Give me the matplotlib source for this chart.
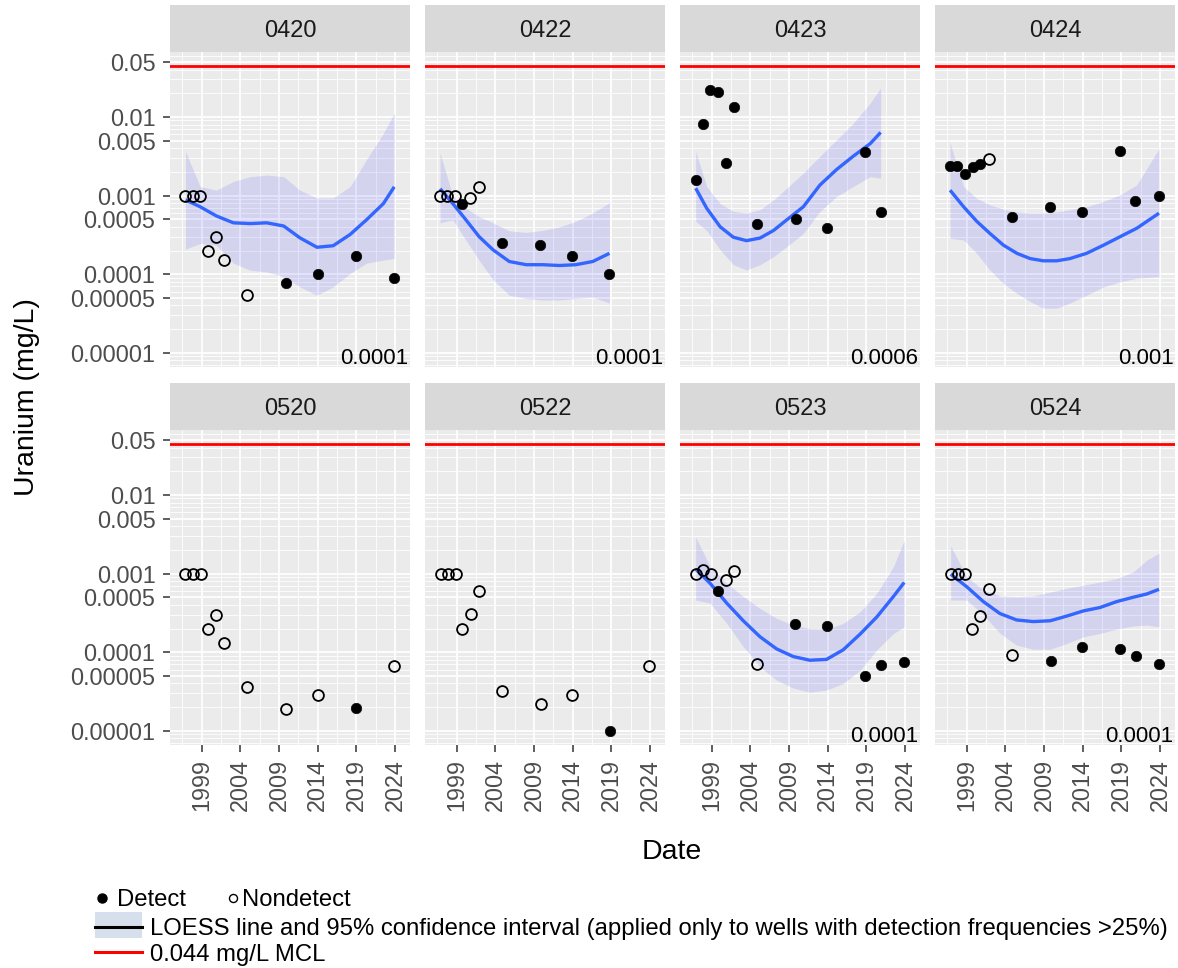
import matplotlib
matplotlib.use('Agg')
import matplotlib.pyplot as plt
from matplotlib.ticker import FixedLocator, NullFormatter
from matplotlib.patches import Rectangle
from matplotlib.lines import Line2D

plt.rcParams['font.family'] = ['Liberation Sans', 'DejaVu Sans']

# ---- data (decimal year, uranium mg/L, 1 = detect / 0 = nondetect) ----
wells = ['0420', '0422', '0423', '0424', '0520', '0522', '0523', '0524']
annot = ['0.0001', '0.0001', '0.0006', '0.001', '', '', '0.0001', '0.0001']
mcl = 0.044
y_breaks = [0.05, 0.01, 0.005, 0.001, 0.0005, 0.0001, 0.00005, 0.00001]
y_labels = ['0.05', '0.01', '0.005', '0.001', '0.0005', '0.0001', '0.00005', '0.00001']
x_breaks = [1999, 2004, 2009, 2014, 2019, 2024]

year_0420 = [1996.9, 1997.9, 1998.8, 1999.8, 2000.85, 2001.9, 2004.9, 2009.9, 2014.0, 2018.9, 2023.9]
conc_0420 = [0.001, 0.001, 0.001, 0.0002, 0.0003, 0.00015, 0.000055, 0.000077, 0.0001, 0.00017, 0.000089]
det_0420 = [0, 0, 0, 0, 0, 0, 0, 1, 1, 1, 1]
fitx_0420 = [1996.9, 1998.8, 2000.9, 2003.1, 2005.3, 2007.4, 2009.6, 2011.7, 2013.9, 2016.0, 2018.2, 2020.3, 2022.5, 2023.9]
fit_0420 = [8.8e-4, 7.2e-4, 5.5e-4, 4.5e-4, 4.4e-4, 4.5e-4, 4.1e-4, 2.9e-4, 2.2e-4, 2.3e-4, 3.2e-4, 4.9e-4, 7.9e-4, 1.29e-3]
lwr_0420 = [2.09e-4, 2.45e-4, 2.34e-4, 1.38e-4, 1.12e-4, 1.07e-4, 9.3e-5, 6.9e-5, 5.4e-5, 6.9e-5, 1.02e-4, 1.38e-4, 1.51e-4, 1.58e-4]
upr_0420 = [3.63e-3, 1.30e-3, 1.17e-3, 1.51e-3, 1.74e-3, 1.82e-3, 1.74e-3, 1.17e-3, 9.3e-4, 9.3e-4, 1.30e-3, 2.85e-3, 6.17e-3, 1.12e-2]

year_0422 = [1996.85, 1997.8, 1998.8, 1999.65, 2000.7, 2001.85, 2004.8, 2009.8, 2013.9, 2018.75]
conc_0422 = [0.001, 0.001, 0.001, 0.00077, 0.00093, 0.0013, 0.000247, 0.000238, 0.000169, 0.0001]
det_0422 = [0, 0, 0, 1, 0, 0, 1, 1, 1, 1]
fitx_0422 = [1996.85, 1998.5, 2000.2, 2001.9, 2003.7, 2005.8, 2008.0, 2010.1, 2012.3, 2014.4, 2016.6, 2018.75]
fit_0422 = [1.22e-3, 7.9e-4, 4.9e-4, 3.0e-4, 2.04e-4, 1.45e-4, 1.32e-4, 1.32e-4, 1.29e-4, 1.32e-4, 1.45e-4, 1.84e-4]
lwr_0422 = [4.5e-4, 4.9e-4, 2.7e-4, 1.5e-4, 8.5e-5, 5.4e-5, 4.9e-5, 4.7e-5, 4.7e-5, 4.9e-5, 5.1e-5, 4.3e-5]
upr_0422 = [3.47e-3, 9.8e-4, 6.9e-4, 5.4e-4, 4.5e-4, 3.55e-4, 3.4e-4, 3.6e-4, 4.0e-4, 4.7e-4, 6.0e-4, 8.1e-4]

year_0423 = [1996.93, 1997.84, 1998.8, 1999.8, 2000.8, 2001.9, 2004.9, 2009.86, 2013.9, 2018.87, 2020.85]
conc_0423 = [0.00158, 0.0082, 0.0222, 0.0209, 0.00258, 0.0133, 0.000436, 0.000505, 0.000384, 0.0036, 0.000625]
det_0423 = [1, 1, 1, 1, 1, 1, 1, 1, 1, 1, 1]
fitx_0423 = [1996.93, 1998.35, 2000.1, 2001.8, 2003.5, 2005.25, 2007.0, 2008.7, 2010.85, 2013.0, 2015.15, 2017.3, 2019.5, 2020.85]
fit_0423 = [1.24e-3, 6.9e-4, 4.0e-4, 2.95e-4, 2.67e-4, 2.88e-4, 3.6e-4, 4.9e-4, 7.2e-4, 1.36e-3, 2.14e-3, 3.16e-3, 4.57e-3, 6.35e-3]
lwr_0423 = [4.7e-4, 3.6e-4, 2.04e-4, 1.32e-4, 1.13e-4, 1.32e-4, 1.67e-4, 2.24e-4, 3.3e-4, 6.3e-4, 9.7e-4, 1.30e-3, 1.74e-3, 1.66e-3]
upr_0423 = [3.63e-3, 1.30e-3, 7.9e-4, 6.3e-4, 6.0e-4, 6.6e-4, 8.8e-4, 1.24e-3, 1.93e-3, 3.16e-3, 5.1e-3, 8.3e-3, 1.5e-2, 2.33e-2]

year_0424 = [1996.85, 1997.8, 1998.74, 1999.78, 2000.72, 2001.9, 2004.86, 2009.82, 2013.9, 2018.83, 2020.8, 2023.87]
conc_0424 = [0.00239, 0.00239, 0.00189, 0.00229, 0.0025, 0.0029, 0.000535, 0.00071, 0.000625, 0.00367, 0.000855, 0.00099]
det_0424 = [1, 1, 1, 1, 1, 0, 1, 1, 1, 1, 1, 1]
fitx_0424 = [1996.85, 1998.6, 2000.3, 2002.0, 2003.75, 2005.5, 2007.2, 2008.9, 2010.65, 2012.35, 2014.5, 2016.7, 2018.85, 2021.0, 2023.87]
fit_0424 = [1.17e-3, 7.2e-4, 4.7e-4, 3.3e-4, 2.34e-4, 1.84e-4, 1.58e-4, 1.48e-4, 1.48e-4, 1.58e-4, 1.84e-4, 2.34e-4, 3.0e-4, 3.84e-4, 5.96e-4]
lwr_0424 = [2.86e-4, 2.72e-4, 1.84e-4, 1.13e-4, 7.6e-5, 5.7e-5, 4.5e-5, 3.7e-5, 3.7e-5, 4.3e-5, 5.4e-5, 6.9e-5, 8.0e-5, 8.9e-5, 9.3e-5]
upr_0424 = [4.65e-3, 1.30e-3, 9.2e-4, 7.6e-4, 6.7e-4, 6.2e-4, 6.0e-4, 6.0e-4, 6.2e-4, 6.6e-4, 7.2e-4, 8.4e-4, 1.02e-3, 1.37e-3, 3.94e-3]

year_0520 = [1996.9, 1997.9, 1998.9, 1999.8, 2000.85, 2001.9, 2004.9, 2009.86, 2014.0, 2018.96, 2023.9]
conc_0520 = [0.001, 0.001, 0.001, 0.0002, 0.000296, 0.000129, 0.0000365, 0.0000188, 0.0000286, 0.0000198, 0.000067]
det_0520 = [0, 0, 0, 0, 0, 0, 0, 0, 0, 1, 0]

year_0522 = [1996.93, 1997.92, 1998.87, 1999.73, 2000.81, 2001.89, 2004.9, 2009.86, 2013.96, 2018.83, 2023.87]
conc_0522 = [0.001, 0.001, 0.001, 0.000199, 0.000308, 0.000597, 0.0000318, 0.000022, 0.0000289, 0.00001, 0.000067]
det_0522 = [0, 0, 0, 0, 0, 0, 0, 0, 0, 1, 0]

year_0523 = [1996.93, 1997.88, 1998.87, 1999.78, 2000.8, 2001.9, 2004.86, 2009.82, 2013.96, 2018.87, 2020.85, 2023.9]
conc_0523 = [0.001, 0.0011, 0.001, 0.000597, 0.00082, 0.00108, 0.0000708, 0.000228, 0.000217, 0.0000499, 0.0000687, 0.000075]
det_0523 = [0, 0, 0, 1, 0, 0, 0, 1, 1, 1, 1, 1]
fitx_0523 = [1996.93, 1998.8, 2000.95, 2003.1, 2005.25, 2007.4, 2009.55, 2011.7, 2013.85, 2016.0, 2018.2, 2020.35, 2022.5, 2023.9]
fit_0523 = [1.14e-3, 7.5e-4, 4.2e-4, 2.5e-4, 1.57e-4, 1.10e-4, 8.8e-5, 7.9e-5, 8.1e-5, 1.07e-4, 1.7e-4, 2.8e-4, 5.1e-4, 7.7e-4]
lwr_0523 = [4.6e-4, 4.2e-4, 2.32e-4, 1.17e-4, 6.5e-5, 4.4e-5, 3.5e-5, 3.1e-5, 3.3e-5, 4.0e-5, 5.9e-5, 1.07e-4, 1.73e-4, 2.1e-4]
upr_0523 = [2.92e-3, 1.22e-3, 7.5e-4, 5.1e-4, 3.6e-4, 2.69e-4, 2.21e-4, 2.0e-4, 1.97e-4, 2.32e-4, 3.27e-4, 5.6e-4, 1.22e-3, 2.65e-3]

year_0524 = [1996.93, 1997.92, 1998.78, 1999.73, 2000.77, 2001.84, 2004.86, 2009.86, 2013.96, 2018.87, 2020.85, 2023.87]
conc_0524 = [0.001, 0.001, 0.001, 0.000199, 0.000288, 0.000633, 0.000092, 0.000078, 0.000117, 0.000109, 0.000089, 0.00007]
det_0524 = [0, 0, 0, 0, 0, 0, 0, 1, 1, 1, 1, 1]
fitx_0524 = [1996.93, 1999.0, 2001.15, 2003.3, 2005.45, 2007.6, 2009.8, 2011.95, 2014.1, 2016.25, 2018.4, 2020.55, 2022.3, 2023.87]
fit_0524 = [9.8e-4, 6.8e-4, 4.4e-4, 3.1e-4, 2.57e-4, 2.45e-4, 2.51e-4, 2.88e-4, 3.35e-4, 3.7e-4, 4.4e-4, 5.0e-4, 5.5e-4, 6.3e-4]
lwr_0524 = [4.6e-4, 4.6e-4, 3.0e-4, 1.74e-4, 1.23e-4, 1.09e-4, 1.09e-4, 1.29e-4, 1.57e-4, 1.73e-4, 1.97e-4, 2.15e-4, 2.21e-4, 2.1e-4]
upr_0524 = [2.24e-3, 9.1e-4, 6.2e-4, 5.2e-4, 5.1e-4, 5.2e-4, 5.8e-4, 6.5e-4, 7.1e-4, 7.8e-4, 8.6e-4, 1.05e-3, 1.48e-3, 1.82e-3]

points = {
    '0420': (year_0420, conc_0420, det_0420), '0422': (year_0422, conc_0422, det_0422),
    '0423': (year_0423, conc_0423, det_0423), '0424': (year_0424, conc_0424, det_0424),
    '0520': (year_0520, conc_0520, det_0520), '0522': (year_0522, conc_0522, det_0522),
    '0523': (year_0523, conc_0523, det_0523), '0524': (year_0524, conc_0524, det_0524),
}
loess = {
    '0420': (fitx_0420, fit_0420, lwr_0420, upr_0420), '0422': (fitx_0422, fit_0422, lwr_0422, upr_0422),
    '0423': (fitx_0423, fit_0423, lwr_0423, upr_0423), '0424': (fitx_0424, fit_0424, lwr_0424, upr_0424),
    '0523': (fitx_0523, fit_0523, lwr_0523, upr_0523), '0524': (fitx_0524, fit_0524, lwr_0524, upr_0524),
}

# ---- layout (pixels) ----
W, H = 1178, 968
fig = plt.figure(figsize=(W / 100, H / 100), dpi=100)


def rect(x0, y0, x1, y1):
    return [x0 / W, 1 - y1 / H, (x1 - x0) / W, (y1 - y0) / H]


col_left = [170, 425, 680, 935]
rows = [(5, 52, 367), (383, 430, 745)]
minor_y = [k * 10.0 ** e for e in range(-6, 0) for k in range(1, 10)]
minor_x = [1996.5 + 5 * i for i in range(7)]

for i, well in enumerate(wells):
    r, c = divmod(i, 4)
    x0 = col_left[c]
    x1 = x0 + 240
    s_top, p_top, p_bot = rows[r]

    # strip
    sax = fig.add_axes(rect(x0, s_top, x1, p_top))
    sax.set_facecolor('#D9D9D9')
    sax.set_xticks([])
    sax.set_yticks([])
    for sp in sax.spines.values():
        sp.set_visible(False)
    sax.text(0.5, 0.5, well, ha='center', va='center_baseline', fontsize=17,
             color='#1A1A1A', transform=sax.transAxes)

    # panel
    ax = fig.add_axes(rect(x0, p_top, x1, p_bot))
    ax.set_facecolor('#EBEBEB')
    for sp in ax.spines.values():
        sp.set_visible(False)
    ax.set_yscale('log')
    ax.set_xlim(1994.9, 2025.94)
    ax.set_ylim(10 ** -5.18, 10 ** -1.175)
    ax.yaxis.set_major_locator(FixedLocator(y_breaks))
    ax.yaxis.set_minor_locator(FixedLocator(minor_y))
    ax.yaxis.set_minor_formatter(NullFormatter())
    ax.xaxis.set_major_locator(FixedLocator(x_breaks))
    ax.xaxis.set_minor_locator(FixedLocator(minor_x))
    ax.set_axisbelow(True)
    ax.grid(which='major', color='white', lw=1.25)
    ax.grid(which='minor', color='white', lw=0.6)
    ax.tick_params(which='minor', length=0)
    ax.tick_params(which='major', length=5, width=1.1, color='#333333',
                   labelsize=16.8, labelcolor='#4D4D4D')
    ax.tick_params(axis='y', pad=5.5)
    ax.tick_params(axis='x', pad=5)
    if c == 0:
        ax.set_yticklabels(y_labels)
    else:
        ax.tick_params(axis='y', which='major', length=0, labelleft=False)
    if r == 1:
        ax.set_xticklabels([str(v) for v in x_breaks], rotation=90)
    else:
        ax.tick_params(axis='x', which='major', length=0, labelbottom=False)

    ax.axhline(mcl, color='#FF0000', lw=2.0, zorder=2)

    if well in loess:
        fx, fy, lo, hi = loess[well]
        ax.fill_between(fx, lo, hi, color='blue', alpha=0.1, lw=0, zorder=2)
        ax.plot(fx, fy, color='#3366FF', lw=2.4, zorder=3, solid_capstyle='butt',
                solid_joinstyle='round')

    yrs, conc, det = points[well]
    for x, y, d in zip(yrs, conc, det):
        if d:
            ax.plot([x], [y], marker='o', ms=7.6, mew=0.4, mec='black', mfc='black',
                    ls='none', zorder=4)
        else:
            ax.plot([x], [y], marker='o', ms=7.8, mew=1.3, mec='black', mfc='none',
                    ls='none', zorder=4)

    if annot[i]:
        ax.annotate(annot[i], xy=(1, 0), xycoords='axes fraction', xytext=(-1.5, 3.5),
                    textcoords='offset pixels', ha='right', va='baseline',
                    fontsize=16, color='black')

# axis titles
fig.text(27 / W, 1 - 397 / H, 'Uranium (mg/L)', rotation=90, ha='center', va='center',
         fontsize=20.5, color='black')
fig.text(672 / W, 1 - 852 / H, 'Date', ha='center', va='center', fontsize=20.5, color='black')

# custom legend
tf = fig.transFigure
fig.add_artist(Line2D([101.7 / W], [1 - 898 / H], marker='o', ms=6.5, mfc='black', mec='black',
                      ls='none', transform=tf))
fig.text(116.7 / W, 1 - 898 / H, 'Detect', ha='left', va='center_baseline', fontsize=17.2)
fig.add_artist(Line2D([233 / W], [1 - 898 / H], marker='o', ms=5.8, mfc='none', mec='black',
                      mew=1.0, ls='none', transform=tf))
fig.text(241.7 / W, 1 - 898 / H, 'Nondetect', ha='left', va='center_baseline', fontsize=17.2)

fig.add_artist(Rectangle((95 / W, 1 - 938 / H), 47 / W, 26 / H, facecolor='#D6DFEC',
                         edgecolor='none', transform=tf))
fig.add_artist(Line2D([95 / W, 142 / W], [1 - 927 / H, 1 - 927 / H], color='black', lw=2.2,
                      transform=tf))
fig.text(150 / W, 1 - 927 / H,
         'LOESS line and 95% confidence interval (applied only to wells with detection frequencies >25%)',
         ha='left', va='center_baseline', fontsize=17.2)
fig.add_artist(Line2D([95 / W, 142 / W], [1 - 952 / H, 1 - 952 / H], color='#FF0000', lw=2.2,
                      transform=tf))
fig.text(150 / W, 1 - 952 / H, '0.044 mg/L MCL', ha='left', va='center_baseline', fontsize=17.2)

fig.savefig('out.png', dpi=100)
